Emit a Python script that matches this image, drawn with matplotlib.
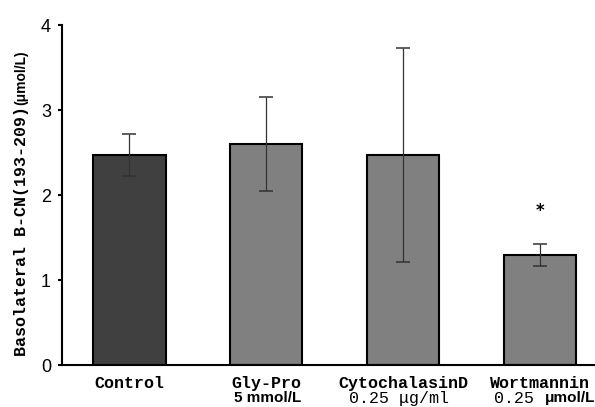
import matplotlib
matplotlib.use("Agg")
import matplotlib.pyplot as plt

# ---- data ----
categories = ["Control", "Gly-Pro", "CytochalasinD", "Wortmannin"]
sub_mono = ["", "", "0.25 \u03bcg/ml", "0.25"]
sub_sans = ["", "5 mmol/L", "", "\u03bcmol/L"]
means = [2.47, 2.60, 2.47, 1.29]
errors = [0.25, 0.55, 1.26, 0.13]
bar_colors = ["#404040", "#808080", "#808080", "#808080"]
yticks = [0, 1, 2, 3, 4]
sig_marks = ["", "", "", "*"]

W, H = 595, 407
fig = plt.figure(figsize=(W / 100, H / 100), dpi=100)
ax = fig.add_axes([62 / W, (H - 365) / H, 1 - 62 / W, (365 - 25.3) / H])

x = list(range(len(categories)))
ax.bar(x, means, width=0.527, color=bar_colors, edgecolor="black", linewidth=1.5, zorder=2)
ax.errorbar(x, means, yerr=errors, fmt="none", ecolor="#333333", elinewidth=0.9,
            capsize=5, capthick=1.1, zorder=3)

ax.set_xlim(-0.493, 3.40)
ax.set_ylim(0, 4)
ax.set_yticks(yticks)
ax.set_yticklabels([str(t) for t in yticks], fontsize=13, family="Liberation Sans")
ax.tick_params(axis="y", length=3, width=1.5, pad=5, direction="out")

ax.set_xticks(x)
ax.set_xticklabels(categories, fontsize=12, family="Liberation Mono", fontweight="bold")
ax.tick_params(axis="x", length=0, pad=8)

for s in ["top", "right"]:
    ax.spines[s].set_visible(False)
for s in ["left", "bottom"]:
    ax.spines[s].set_linewidth(1.5)

# slight extension of x-axis line left of y-axis
ax.annotate("", xy=(0, 0), xycoords="axes fraction", xytext=(-4, 0),
            textcoords="offset points", arrowprops=dict(arrowstyle="-", lw=1.5))

# second-line labels
dy = -24
for i in x:
    m, s = sub_mono[i], sub_sans[i]
    if m and s:
        ax.annotate(m, xy=(i, 0), xycoords=("data", "axes fraction"), xytext=(-33, dy),
                    textcoords="offset points", ha="left", va="center",
                    fontsize=12, family="Liberation Mono")
        ax.annotate(s, xy=(i, 0), xycoords=("data", "axes fraction"), xytext=(3, dy),
                    textcoords="offset points", ha="left", va="center",
                    fontsize=11, family="Liberation Sans", fontweight="bold")
    elif m:
        ax.annotate(m, xy=(i, 0), xycoords=("data", "axes fraction"), xytext=(-3, dy),
                    textcoords="offset points", ha="center", va="center",
                    fontsize=12, family="Liberation Mono")
    elif s:
        ax.annotate(s, xy=(i, 0), xycoords=("data", "axes fraction"), xytext=(1, dy),
                    textcoords="offset points", ha="center", va="center",
                    fontsize=11, family="Liberation Sans", fontweight="bold")

# significance marks
for i in x:
    if sig_marks[i]:
        ax.annotate(sig_marks[i], xy=(i, means[i] + errors[i]), xytext=(0, 24),
                    textcoords="offset points", ha="center", va="center",
                    fontsize=12, fontweight="bold", family="DejaVu Sans")

# y-axis label: monospace part + sans unit placed right after it
t1 = fig.text(21.5 / W, (H - 356) / H, "Basolateral B-CN(193-209)", rotation=90,
              ha="center", va="bottom", fontsize=12, family="Liberation Mono", fontweight="bold")
fig.canvas.draw()
bb = t1.get_window_extent()
fig.text(21.5 / W, (bb.y1 + 1) / H, "(\u03bcmol/L)", rotation=90,
         ha="center", va="bottom", fontsize=10, family="Liberation Sans", fontweight="bold")

fig.savefig("out.png", dpi=100)
